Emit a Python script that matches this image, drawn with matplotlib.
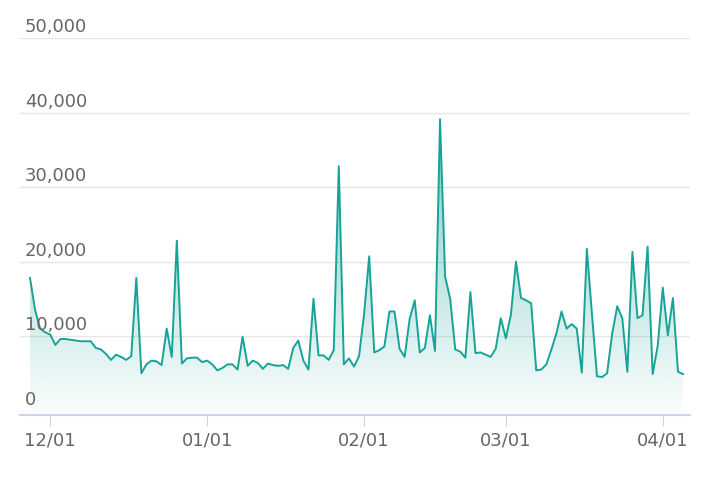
import matplotlib
matplotlib.use("Agg")
import matplotlib.pyplot as plt
import numpy as np
import pandas as pd
from matplotlib.patches import Polygon

start_date = "2022-11-27"
values = [17800,13500,11000,10500,10200,8800,9600,9600,9500,9400,9300,9300,9300,8400,8200,7600,6800,7500,7200,6800,
          7300,17800,5000,6200,6700,6600,6100,11000,7200,22800,6300,7000,7100,7100,6500,6700,6200,5400,5700,6200,
          6200,5500,9900,6000,6700,6400,5600,6300,6100,6000,6100,5600,8400,9400,6700,5500,15000,7400,7400,6800,
          8100,32800,6200,7000,5900,7300,13000,20700,7800,8100,8600,13300,13300,8300,7200,12300,14800,7800,8400,12800,
          8000,39100,18000,15000,8200,7900,7100,15900,7700,7800,7500,7200,8300,12400,9700,12900,20000,15100,14800,14400,
          5400,5500,6200,8200,10400,13300,11000,11600,11000,5100,21700,13000,4600,4500,5000,10300,14000,12400,5200,21300,
          12400,12800,22000,4900,8700,16500,10100,15100,5200,4900]
tick_dates = ["2022-12-01", "2023-01-01", "2023-02-01", "2023-03-01", "2023-04-01"]
tick_labels = ["12/01", "01/01", "02/01", "03/01", "04/01"]
y_ticks = [0, 10000, 20000, 30000, 40000, 50000]

dates = pd.date_range(start_date, periods=len(values), freq="D")
t0 = pd.Timestamp(start_date)
x = np.array([(d - t0).days for d in dates], dtype=float)
y = np.array(values, dtype=float)
tx = [(pd.Timestamp(d) - t0).days for d in tick_dates]

fig = plt.figure(figsize=(7.1, 4.82), dpi=100)
ax = fig.add_axes([0.028, 0.139, 0.944, 0.782])
ax.set_xlim(-2, 130.4)
ax.set_ylim(-600, 50000)

line_c = "#17a398"
grad = np.linspace(0.55, 0.03, 256).reshape(-1, 1)
rgba = np.zeros((256, 1, 4))
rgba[..., 0] = 0x17 / 255; rgba[..., 1] = 0xa3 / 255; rgba[..., 2] = 0x98 / 255
rgba[..., 3] = grad
im = ax.imshow(rgba, extent=[x[0], x[-1], 0, max(y)], aspect="auto", origin="upper", zorder=1)
poly = Polygon(np.column_stack([np.r_[x[0], x, x[-1]], np.r_[0, y, 0]]), closed=True,
               facecolor="none", edgecolor="none")
ax.add_patch(poly)
im.set_clip_path(poly)
ax.plot(x, y, color=line_c, lw=1.4, zorder=3)

for v in y_ticks:
    if v > 0:
        ax.axhline(v, color="#e6e6e6", lw=1, zorder=0)
    ax.text(0.007, v + 250, f"{v:,}", transform=ax.get_yaxis_transform(), fontsize=13,
            color="#666666", ha="left", va="bottom")

ax.set_yticks([])
ax.set_xticks(tx)
ax.set_xticklabels(tick_labels, fontsize=13, color="#666666")
ax.tick_params(axis="x", length=8, color="#ccd6eb", pad=4)
for s in ["top", "right", "left"]:
    ax.spines[s].set_visible(False)
ax.spines["bottom"].set_color("#ccd6eb")
ax.spines["bottom"].set_linewidth(1.5)

fig.savefig("out.png", dpi=100)
